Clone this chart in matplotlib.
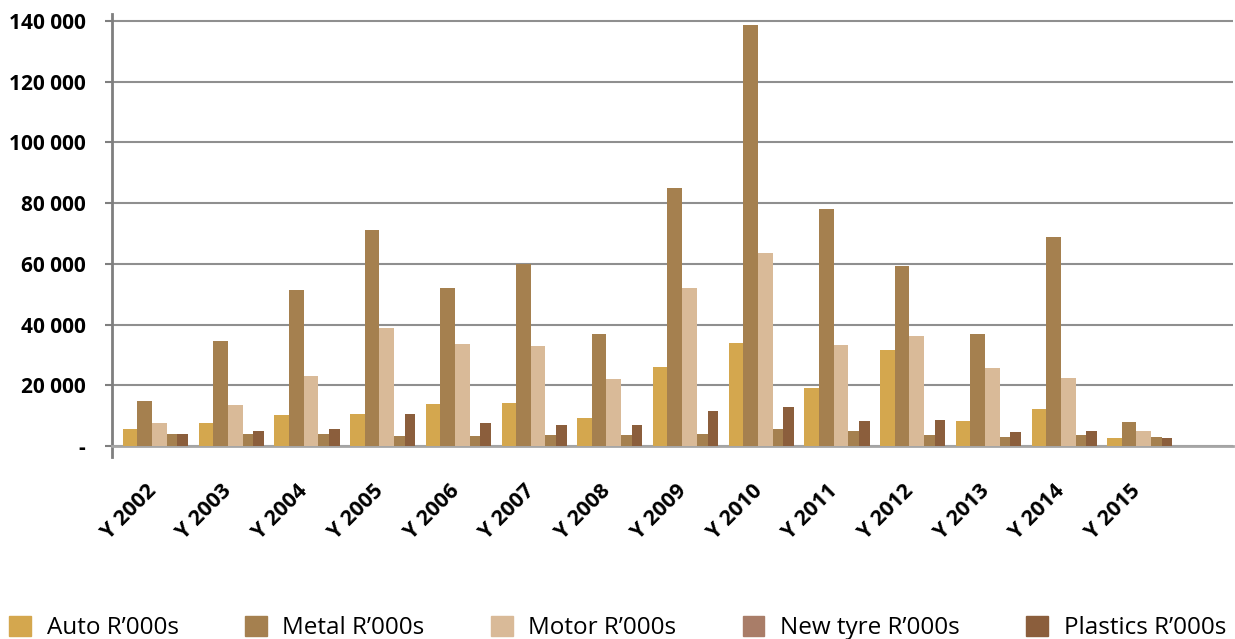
import numpy as np
import matplotlib.pyplot as plt
from matplotlib.patches import Patch
from matplotlib.ticker import FuncFormatter

years = ["Y 2002", "Y 2003", "Y 2004", "Y 2005", "Y 2006", "Y 2007", "Y 2008",
         "Y 2009", "Y 2010", "Y 2011", "Y 2012", "Y 2013", "Y 2014", "Y 2015"]

auto = [5500, 7500, 10100, 10400, 13700, 14100, 9100, 25900, 33900, 19000, 31500, 8100, 12100, 2500]
metal = [14700, 34500, 51300, 71000, 52200, 59800, 36800, 85100, 138700, 78200, 59200, 36800, 68700, 7800]
motor = [7500, 13400, 23000, 38800, 33500, 32900, 22000, 52200, 63500, 33200, 36100, 25600, 22300, 4850]
new_tyre = [3850, 3850, 3850, 3200, 3200, 3500, 3500, 3850, 5500, 4850, 3500, 2850, 3500, 2850]
plastics = [3850, 4850, 5500, 10400, 7500, 6800, 6800, 11400, 12750, 8100, 8400, 4500, 4850, 2500]

names = ["Auto R\u2019000s", "Metal R\u2019000s", "Motor R\u2019000s", "New tyre R\u2019000s", "Plastics R\u2019000s"]
series = [auto, metal, motor, new_tyre, plastics]
bar_colors = ["#D4A74E", "#A5804F", "#D9BA98", "#A5804F", "#8B5E3C"]
legend_colors = ["#D4A74E", "#A5804F", "#D9BA98", "#A97D68", "#8B5E3C"]

plt.rcParams['font.family'] = ['Open Sans', 'DejaVu Sans']

fig = plt.figure(figsize=(12.35, 6.39), dpi=100)
ax = fig.add_axes([112/1235, 1 - 446/639, (1233-112)/1235, (446-14)/639])

# offsets / widths inside one category (category width = 1)
offsets = [0.0, 0.19, 0.385, 0.58, 0.72]
widths = [0.19, 0.195, 0.195, 0.14, 0.14]

x = np.arange(len(years))
for s, off, w, c in zip(series, offsets, widths, bar_colors):
    ax.bar(x + off, s, width=w, align='edge', color=c, zorder=3)

ax.set_xlim(-0.145, 14.66)
ax.set_ylim(0, 142300)
ax.set_yticks(np.arange(0, 140001, 20000))
ax.yaxis.set_major_formatter(FuncFormatter(lambda v, p: "-" if v == 0 else f"{int(v):,}".replace(",", " ")))
ax.grid(axis='y', color='#8f8f8f', lw=1.5, zorder=0)
ax.set_axisbelow(True)

for sp in ['top', 'right']:
    ax.spines[sp].set_visible(False)
ax.spines['left'].set_color('#7f7f7f')
ax.spines['left'].set_linewidth(2)
ax.spines['bottom'].set_color('#a6a6a6')
ax.spines['bottom'].set_linewidth(2)

ax.tick_params(axis='y', length=5, width=1.5, color='#7f7f7f', pad=14, labelsize=15)
for lbl in ax.get_yticklabels():
    lbl.set_fontweight('bold')

ax.set_xticks(x + 0.3)
ax.set_xticklabels(years, rotation=45, ha='right', va='top', rotation_mode='anchor',
                   fontsize=15.5, fontweight='bold')
ax.tick_params(axis='x', length=0, pad=25)

# small tick below the axis at the left edge
ax.plot([-0.145, -0.145], [0, -3600], color='#7f7f7f', lw=2, clip_on=False)

handles = [Patch(color=c) for c in legend_colors]
fig.legend(handles, names, loc='lower center', bbox_to_anchor=(0.5, -0.036), ncol=5,
           frameon=False, fontsize=17.5, handlelength=0.9, handleheight=0.9,
           handletextpad=0.65, columnspacing=2.72)

fig.savefig("out.png", dpi=100)
